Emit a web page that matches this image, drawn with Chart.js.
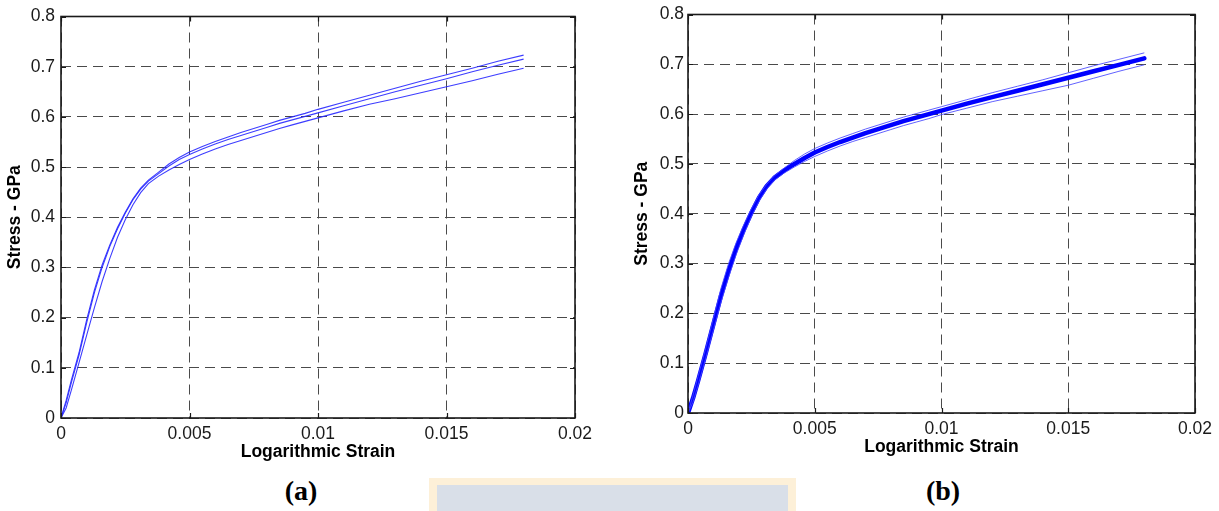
<!DOCTYPE html>
<html>
<head>
<meta charset="utf-8">
<script src="https://cdn.jsdelivr.net/npm/chart.js@4/dist/chart.umd.min.js"></script>
<style>
  html, body { margin: 0; padding: 0; background: #ffffff; }
  body { width: 1219px; height: 511px; position: relative; overflow: hidden; }
  canvas { position: absolute; }
  #cA { left: 0px; top: 0px; }
  #cB { left: 627px; top: 0px; }
  .panel {
    position: absolute; top: 474px; width: 80px; text-align: center;
    font-family: 'Liberation Serif', 'Times New Roman', serif;
    font-weight: bold; font-size: 28px; color: #000; line-height: 34px;
  }
  #la { left: 261px; }
  #lb { left: 903px; }
  .band { position: absolute; left: 429px; top: 478px; width: 367px; height: 40px; background: #fdf0d8; }
  .band-in { position: absolute; left: 437px; top: 485px; width: 351px; height: 40px; background: #d9dfe8; }
</style>
</head>
<body>
<canvas id="cA" width="609" height="470"></canvas>
<canvas id="cB" width="592" height="465"></canvas>
<div class="band"></div>
<div class="band-in"></div>
<div class="panel" id="la">(a)</div>
<div class="panel" id="lb">(b)</div>
<script>
// Logarithmic strain sample points shared by all curves
const strain = [0, 0.0002, 0.0004, 0.0007, 0.001, 0.0013, 0.0016, 0.0019, 0.0022, 0.0025,
  0.0028, 0.0031, 0.0034, 0.0038, 0.0042, 0.0046, 0.005, 0.0055, 0.006, 0.0065,
  0.007, 0.0075, 0.008, 0.0085, 0.009, 0.0095, 0.01, 0.011, 0.012, 0.013,
  0.014, 0.015, 0.016, 0.017, 0.018];

// (a) three individual tests, stress in GPa
const testA = [0, 0.035, 0.075, 0.13, 0.196, 0.255, 0.305, 0.345, 0.38, 0.41,
  0.437, 0.458, 0.474, 0.49, 0.506, 0.519, 0.530, 0.541, 0.551, 0.560,
  0.569, 0.577, 0.585, 0.593, 0.600, 0.607, 0.615, 0.629, 0.643, 0.657,
  0.671, 0.684, 0.697, 0.711, 0.723];
const testB = [0, 0.03, 0.07, 0.125, 0.19, 0.25, 0.30, 0.342, 0.377, 0.408,
  0.435, 0.456, 0.472, 0.487, 0.502, 0.515, 0.525, 0.536, 0.546, 0.555,
  0.563, 0.571, 0.579, 0.587, 0.594, 0.601, 0.608, 0.622, 0.636, 0.650,
  0.663, 0.676, 0.690, 0.703, 0.715];
const testC = [0, 0.02, 0.055, 0.11, 0.165, 0.22, 0.272, 0.318, 0.36, 0.395,
  0.425, 0.449, 0.467, 0.482, 0.494, 0.505, 0.515, 0.526, 0.536, 0.545,
  0.553, 0.561, 0.569, 0.577, 0.584, 0.591, 0.598, 0.612, 0.625, 0.636,
  0.648, 0.660, 0.672, 0.685, 0.697];

// (b) mean curve with upper and lower bounds, stress in GPa
const meanCurve = [0, 0.03, 0.065, 0.12, 0.178, 0.235, 0.285, 0.33, 0.368, 0.402,
  0.432, 0.455, 0.472, 0.487, 0.500, 0.512, 0.523, 0.534, 0.544, 0.553,
  0.562, 0.570, 0.578, 0.586, 0.593, 0.600, 0.607, 0.621, 0.634, 0.647,
  0.660, 0.673, 0.686, 0.699, 0.712];
const upperCurve = [0, 0.036, 0.074, 0.13, 0.19, 0.25, 0.30, 0.342, 0.378, 0.41,
  0.438, 0.459, 0.476, 0.492, 0.507, 0.520, 0.531, 0.542, 0.552, 0.561,
  0.570, 0.578, 0.586, 0.594, 0.601, 0.608, 0.615, 0.629, 0.643, 0.656,
  0.669, 0.683, 0.697, 0.710, 0.723];
const lowerCurve = [0, 0.022, 0.056, 0.11, 0.166, 0.222, 0.272, 0.318, 0.358, 0.394,
  0.425, 0.449, 0.467, 0.482, 0.494, 0.505, 0.515, 0.526, 0.536, 0.545,
  0.553, 0.561, 0.569, 0.577, 0.584, 0.591, 0.599, 0.612, 0.625, 0.636,
  0.647, 0.658, 0.672, 0.686, 0.699];

// Axis ticks
const xTicks = [0, 0.005, 0.01, 0.015, 0.02];
const xTickLabels = ['0', '0.005', '0.01', '0.015', '0.02'];
const yTicks = [0, 0.1, 0.2, 0.3, 0.4, 0.5, 0.6, 0.7, 0.8];
const yTickLabels = ['0', '0.1', '0.2', '0.3', '0.4', '0.5', '0.6', '0.7', '0.8'];

const xTitle = 'Logarithmic Strain';
const yTitle = 'Stress - GPa';

function pts(ys) { return strain.map((s, i) => ({ x: s, y: ys[i] })); }

// Box around the plot area with short inward tick marks
const framePlugin = {
  id: 'frame',
  afterDraw(chart) {
    const { ctx, chartArea: a, scales } = chart;
    ctx.save();
    ctx.strokeStyle = '#1a1a1a';
    ctx.lineWidth = 1.6;
    ctx.strokeRect(a.left, a.top, a.right - a.left, a.bottom - a.top);
    ctx.lineWidth = 1.2;
    ctx.beginPath();
    scales.x.ticks.forEach(t => {
      const p = Math.round(scales.x.getPixelForValue(t.value)) + 0.5;
      ctx.moveTo(p, a.bottom); ctx.lineTo(p, a.bottom - 5);
      ctx.moveTo(p, a.top); ctx.lineTo(p, a.top + 5);
    });
    scales.y.ticks.forEach(t => {
      const p = Math.round(scales.y.getPixelForValue(t.value)) + 0.5;
      ctx.moveTo(a.left, p); ctx.lineTo(a.left + 5, p);
      ctx.moveTo(a.right, p); ctx.lineTo(a.right - 5, p);
    });
    ctx.stroke();
    ctx.restore();
  }
};

function makeOptions(padRight, labelPad) {
  const tickFont = { family: "'Liberation Sans', Arial, sans-serif", size: 17.5 };
  const titleFont = { family: "'Liberation Sans', Arial, sans-serif", size: 17.5, weight: 'bold' };
  return {
    responsive: false,
    animation: false,
    devicePixelRatio: 1,
    layout: { padding: { left: 0, top: 14, right: padRight, bottom: 0 } },
    plugins: { legend: { display: false }, tooltip: { enabled: false } },
    elements: { point: { radius: 0 }, line: { tension: 0 } },
    scales: {
      x: {
        type: 'linear', min: 0, max: 0.02,
        afterBuildTicks: s => { s.ticks = xTicks.map(v => ({ value: v })); },
        afterFit: s => { s.height = 52; },
        ticks: {
          color: '#1a1a1a', font: tickFont, padding: 6, maxRotation: 0,
          callback: v => xTickLabels[xTicks.indexOf(v)]
        },
        grid: { color: '#4a4a4a', lineWidth: 1, drawTicks: false },
        border: { display: false, dash: [10, 6] },
        title: { display: true, text: xTitle, color: '#000', font: titleFont, padding: { top: 0, bottom: 7 } }
      },
      y: {
        type: 'linear', min: 0, max: 0.8,
        afterBuildTicks: s => { s.ticks = yTicks.map(v => ({ value: v })); },
        afterFit: s => { s.width = 61; },
        ticks: {
          color: '#1a1a1a', font: tickFont, padding: labelPad,
          callback: v => yTickLabels[yTicks.indexOf(v)]
        },
        grid: { color: '#4a4a4a', lineWidth: 1, drawTicks: false },
        border: { display: false, dash: [10, 6] },
        title: { display: true, text: yTitle, color: '#000', font: titleFont, padding: { top: 5, bottom: 0 } }
      }
    }
  };
}

const thinBlue = 'rgba(40, 40, 255, 0.9)';

new Chart(document.getElementById('cA'), {
  type: 'line',
  data: {
    datasets: [
      { data: pts(testA), borderColor: thinBlue, borderWidth: 1.1 },
      { data: pts(testB), borderColor: thinBlue, borderWidth: 1.1 },
      { data: pts(testC), borderColor: thinBlue, borderWidth: 1.1 }
    ]
  },
  options: makeOptions(34, 6),
  plugins: [framePlugin]
});

new Chart(document.getElementById('cB'), {
  type: 'line',
  data: {
    datasets: [
      { data: pts(upperCurve), borderColor: 'rgba(70, 70, 255, 0.85)', borderWidth: 1 },
      { data: pts(lowerCurve), borderColor: 'rgba(70, 70, 255, 0.85)', borderWidth: 1 },
      { data: pts(meanCurve), borderColor: '#0000ff', borderWidth: 4.5, borderCapStyle: 'round', borderJoinStyle: 'round' }
    ]
  },
  options: makeOptions(24, 4),
  plugins: [framePlugin]
});
</script>
</body>
</html>
